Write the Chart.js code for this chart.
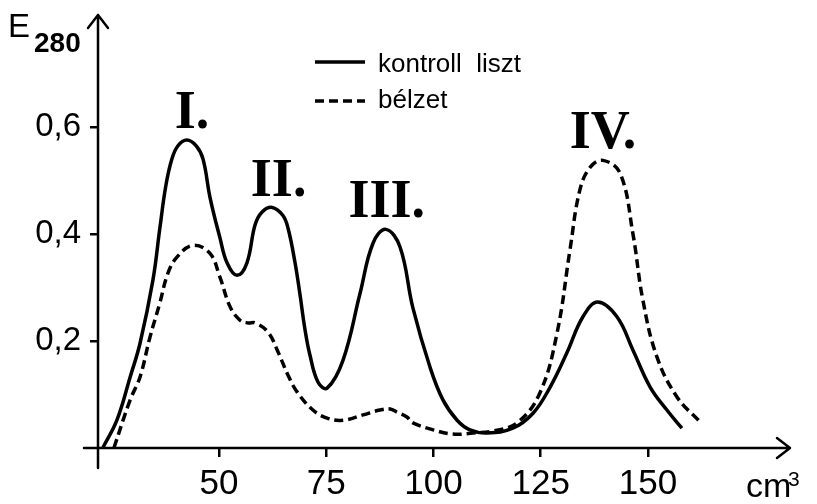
<!DOCTYPE html>
<html>
<head>
<meta charset="utf-8">
<script src="https://cdn.jsdelivr.net/npm/chart.js@4"></script>
<style>
  html, body { margin: 0; padding: 0; background: #fff; }
  #wrap { width: 817px; height: 504px; }
</style>
</head>
<body>
<div id="wrap"><canvas id="chart" width="817" height="504"></canvas></div>
<script>
// --- data (x in cm3, y = E280) ---
const kontrollX = [22.9, 26.2, 29.3, 31.6, 34.6, 36.2, 37.6, 39.0, 40.4, 42.5, 44.7, 46.3, 47.9, 50.2, 51.9, 54.2, 56.5, 58.4, 60.0, 62.4, 64.9, 66.1, 67.7, 68.9, 70.0, 71.2, 73.1, 75.2, 78.9, 82.9, 85.9, 88.9, 92.2, 95.2, 99.2, 102.2, 105.5, 108.5, 112.5, 118.5, 123.2, 127.2, 131.1, 134.8, 138.3, 142.8, 146.5, 150.5, 154.4, 157.9];
const kontrollY = [0, 0.052, 0.133, 0.196, 0.314, 0.41, 0.49, 0.54, 0.565, 0.576, 0.565, 0.54, 0.469, 0.394, 0.346, 0.323, 0.346, 0.417, 0.441, 0.450, 0.435, 0.411, 0.348, 0.286, 0.224, 0.174, 0.123, 0.112, 0.164, 0.29, 0.383, 0.409, 0.376, 0.262, 0.151, 0.09, 0.052, 0.034, 0.028, 0.037, 0.065, 0.114, 0.178, 0.245, 0.273, 0.245, 0.183, 0.114, 0.071, 0.037];

const belzetX = [25.5, 29.3, 31.6, 33.9, 36.2, 38.1, 40.2, 43.9, 47.9, 50.2, 52.6, 54.9, 56.8, 58.4, 61.4, 63.8, 66.1, 68.2, 71.9, 75.2, 78.9, 83.6, 87.5, 89.9, 91.5, 93.8, 95.2, 99.9, 104.5, 109.2, 114.0, 119.5, 124.8, 128.8, 131.8, 134.1, 136.5, 139.5, 143.5, 146.5, 148.8, 152.1, 156.8, 162.1];
const belzetY = [0, 0.09, 0.133, 0.207, 0.271, 0.327, 0.357, 0.379, 0.364, 0.32, 0.264, 0.239, 0.234, 0.234, 0.217, 0.179, 0.136, 0.105, 0.071, 0.056, 0.052, 0.062, 0.071, 0.073, 0.067, 0.058, 0.047, 0.034, 0.026, 0.028, 0.032, 0.047, 0.103, 0.215, 0.37, 0.482, 0.525, 0.538, 0.514, 0.40, 0.277, 0.17, 0.095, 0.049];

const xTicks = [50, 75, 100, 125, 150];
const yTicks = [0.2, 0.4, 0.6];

const seriesNames = ["kontroll  liszt", "bélzet"];
const peakNames = ["I.", "II.", "III.", "IV."];
const peakX = [43.7, 63.9, 89.1, 139.5];
const peakY = [0.598, 0.471, 0.433, 0.561];

const toPoints = (xs, ys) => xs.map((x, i) => ({ x: x, y: ys[i] }));

// axes with arrows, legend, peak labels, axis titles
const drawing = {
    id: "drawing",
    afterDraw(chart) {
        const c = chart.ctx;
        const xs = chart.scales.x, ys = chart.scales.y;
        const x0 = xs.left, y0 = ys.getPixelForValue(0);
        c.save();
        c.strokeStyle = "#000";
        c.fillStyle = "#000";
        c.lineWidth = 2.5;
        c.lineCap = "round";
        c.lineJoin = "round";

        // y axis + arrow
        c.beginPath();
        c.moveTo(x0, y0 + 20);
        c.lineTo(x0, ys.top);
        c.moveTo(x0 - 10, ys.top + 13);
        c.lineTo(x0, ys.top);
        c.lineTo(x0 + 10, ys.top + 13);
        c.stroke();

        // x axis + arrow
        c.beginPath();
        c.moveTo(x0 - 14, y0);
        c.lineTo(xs.right, y0);
        c.moveTo(xs.right - 13, y0 - 10);
        c.lineTo(xs.right, y0);
        c.lineTo(xs.right - 13, y0 + 10);
        c.stroke();

        // legend
        c.lineWidth = 3.5;
        c.lineCap = "butt";
        c.beginPath();
        c.moveTo(315, 62); c.lineTo(365, 62);
        c.stroke();
        c.setLineDash([9, 5]);
        c.beginPath();
        c.moveTo(315, 101); c.lineTo(365, 101);
        c.stroke();
        c.setLineDash([]);
        c.font = "26px 'Liberation Sans', Arial, sans-serif";
        c.textBaseline = "alphabetic";
        c.textAlign = "left";
        c.fillText(seriesNames[0], 378, 72);
        c.fillText(seriesNames[1], 378, 108);

        // peak labels
        c.font = "bold 54px 'Liberation Serif', 'Times New Roman', serif";
        c.textAlign = "center";
        peakNames.forEach((t, i) => {
            c.fillText(t, xs.getPixelForValue(peakX[i]), ys.getPixelForValue(peakY[i]));
        });

        // axis titles
        c.textAlign = "left";
        c.font = "33px 'Liberation Sans', Arial, sans-serif";
        c.fillText("E", 8, 37);
        c.font = "bold 28px 'Liberation Sans', Arial, sans-serif";
        c.fillText("280", 34, 52);
        c.font = "34px 'Liberation Sans', Arial, sans-serif";
        c.fillText("cm", 746, 497);
        c.font = "21px 'Liberation Sans', Arial, sans-serif";
        c.fillText("3", 788, 486);
        c.restore();
    }
};

const ctx = document.getElementById("chart").getContext("2d");
new Chart(ctx, {
    type: "line",
    data: {
        datasets: [
            {
                label: seriesNames[0],
                data: toPoints(kontrollX, kontrollY),
                borderColor: "#000",
                borderWidth: 3.5,
                pointRadius: 0,
                tension: 0.4,
                fill: false,
                clip: false
            },
            {
                label: seriesNames[1],
                data: toPoints(belzetX, belzetY),
                borderColor: "#000",
                borderWidth: 3.5,
                borderDash: [9, 5],
                pointRadius: 0,
                tension: 0.4,
                fill: false,
                clip: false
            }
        ]
    },
    options: {
        responsive: false,
        animation: false,
        layout: { padding: { top: 15, right: 27, left: 0, bottom: 0 } },
        plugins: { legend: { display: false }, tooltip: { enabled: false } },
        scales: {
            x: {
                type: "linear",
                min: 21.8,
                max: 183.1,
                afterBuildTicks: s => { s.ticks = xTicks.map(v => ({ value: v })); },
                afterFit: s => { s.height = 56; s.paddingLeft = 0; s.paddingRight = 0; },
                grid: { drawOnChartArea: false, drawTicks: true, tickLength: 9, color: "#000", lineWidth: 2.5 },
                border: { display: false },
                ticks: {
                    color: "#000",
                    padding: 6,
                    maxRotation: 0,
                    font: { family: "'Liberation Sans', Arial, sans-serif", size: 35 }
                }
            },
            y: {
                min: 0,
                max: 0.81,
                afterBuildTicks: s => { s.ticks = yTicks.map(v => ({ value: v })); },
                afterFit: s => { s.width = 98; s.paddingTop = 0; s.paddingBottom = 0; },
                grid: { drawOnChartArea: false, drawTicks: true, tickLength: 8, color: "#000", lineWidth: 2.5 },
                border: { display: false },
                ticks: {
                    color: "#000",
                    padding: 9,
                    callback: v => v.toFixed(1).replace(".", ","),
                    font: { family: "'Liberation Sans', Arial, sans-serif", size: 33 }
                }
            }
        }
    },
    plugins: [drawing]
});
</script>
</body>
</html>
